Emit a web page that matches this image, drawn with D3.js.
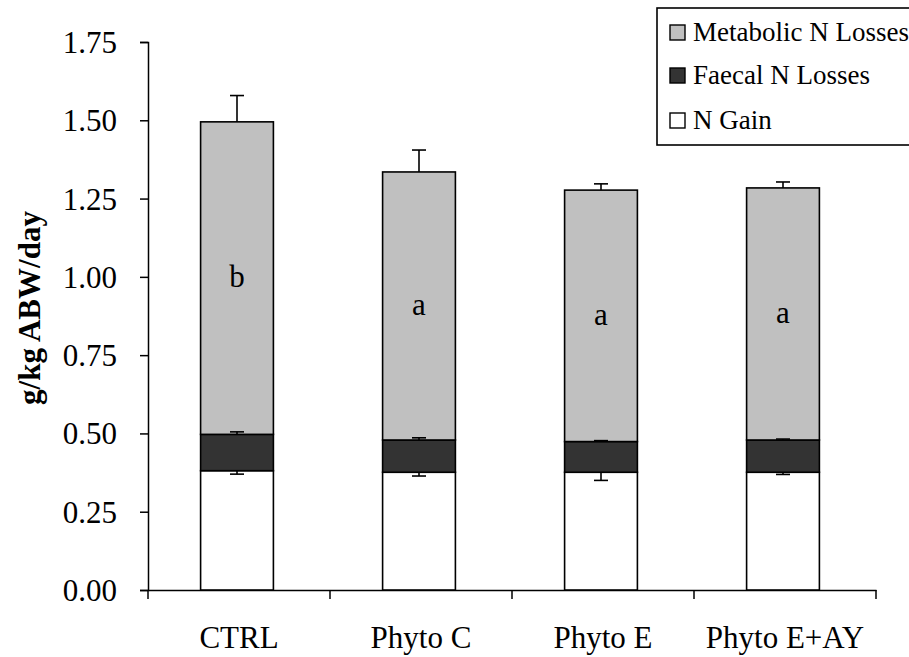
<!DOCTYPE html>
<html><head><meta charset="utf-8">
<script src="https://cdn.jsdelivr.net/npm/d3@7"></script>
<style>body{margin:0;background:#fff}svg{display:block}</style>
</head><body>
<svg id="c" width="909" height="657"></svg>
<script>
const categories = ["CTRL", "Phyto C", "Phyto E", "Phyto E+AY"];
const nGain = [0.381, 0.376, 0.376, 0.376];
const nGainErr = [0.011, 0.012, 0.026, 0.007];
const faecal = [0.116, 0.103, 0.098, 0.103];
const faecalErr = [0.008, 0.007, 0.003, 0.003];
const metabolic = [0.998, 0.856, 0.803, 0.805];
const metabolicErr = [0.084, 0.070, 0.020, 0.019];
const letters = ["b", "a", "a", "a"];
const yTicks = [0, 0.25, 0.5, 0.75, 1.0, 1.25, 1.5, 1.75];
const legendLabels = ["Metabolic N Losses", "Faecal N Losses", "N Gain"];
const colors = ["#c0c0c0", "#333333", "#ffffff"];

const svg = d3.select("#c");
const font = "'Liberation Serif', 'Times New Roman', serif";
const x0 = 148, x1 = 876, yTop = 42, yBot = 590;
const x = d3.scaleBand().domain(categories).range([x0, x1]).paddingInner(0).paddingOuter(0);
const y = d3.scaleLinear().domain([0, 1.75]).range([yBot, yTop]);
const bw = x.bandwidth() * 0.4;

// axes
const yAxis = d3.axisLeft(y).tickValues(yTicks).tickSize(8).tickFormat(d3.format(".2f"));
const gy = svg.append("g").attr("transform", `translate(${x0},0)`).call(yAxis);
gy.select(".domain").attr("stroke", "#000").attr("stroke-width", 1.5);
gy.selectAll(".tick line").attr("stroke", "#000").attr("stroke-width", 1.5);
gy.selectAll(".tick text").attr("font-family", font).attr("font-size", 31).attr("fill", "#000").attr("x", -31).attr("dy", "0.34em");

const xAxis = d3.axisBottom(x).tickSize(0).tickSizeOuter(0);
const gx = svg.append("g").attr("transform", `translate(0,${yBot})`).call(xAxis);
gx.select(".domain").attr("stroke", "#000").attr("stroke-width", 1.5);
gx.selectAll(".tick text").attr("font-family", font).attr("font-size", 31).attr("fill", "#000").attr("dy", 0).attr("y", 58);
// category boundary ticks
const bounds = categories.map(c => x(c)).concat([x1]);
svg.append("g").selectAll("line").data(bounds).join("line")
  .attr("x1", d => d).attr("x2", d => d).attr("y1", yBot).attr("y2", yBot + 9)
  .attr("stroke", "#000").attr("stroke-width", 1.5);

// bars
const data = categories.map((c, i) => ({c, i, g: nGain[i], f: faecal[i], m: metabolic[i]}));
const cx = d => x(d.c) + x.bandwidth() / 2 - 2;
const g = svg.append("g");
data.forEach(d => {
  const segs = [
    {lo: 0, hi: d.g, col: colors[2]},
    {lo: d.g, hi: d.g + d.f, col: colors[1]},
    {lo: d.g + d.f, hi: d.g + d.f + d.m, col: colors[0]}
  ];
  segs.forEach(s => {
    g.append("rect").attr("x", cx(d) - bw / 2).attr("width", bw)
      .attr("y", y(s.hi)).attr("height", y(s.lo) - y(s.hi))
      .attr("fill", s.col).attr("stroke", "#000").attr("stroke-width", 1.6);
  });
  const errs = [
    {v: d.g, e: -nGainErr[d.i]},
    {v: d.g + d.f, e: faecalErr[d.i]},
    {v: d.g + d.f + d.m, e: metabolicErr[d.i]}
  ];
  errs.forEach(er => {
    g.append("line").attr("x1", cx(d)).attr("x2", cx(d)).attr("y1", y(er.v)).attr("y2", y(er.v + er.e))
      .attr("stroke", "#000").attr("stroke-width", 1.6);
    g.append("line").attr("x1", cx(d) - 7).attr("x2", cx(d) + 7).attr("y1", y(er.v + er.e)).attr("y2", y(er.v + er.e))
      .attr("stroke", "#000").attr("stroke-width", 1.6);
  });
  g.append("text").attr("x", cx(d)).attr("y", y(d.g + d.f + d.m / 2)).attr("dy", "0.3em")
    .attr("text-anchor", "middle").attr("font-family", font).attr("font-size", 31).text(letters[d.i]);
});

// y title
svg.append("text").attr("transform", `translate(40,308) rotate(-90)`)
  .attr("text-anchor", "middle").attr("font-family", font).attr("font-weight", "bold")
  .attr("font-size", 31).text("g/kg ABW/day");

// legend
const lg = svg.append("g");
lg.append("rect").attr("x", 657).attr("y", 8).attr("width", 270).attr("height", 137)
  .attr("fill", "#fff").attr("stroke", "#000").attr("stroke-width", 1.6);
const rowsY = [32, 75, 120];
legendLabels.forEach((l, i) => {
  lg.append("rect").attr("x", 670).attr("y", rowsY[i] - 7).attr("width", 15).attr("height", 15)
    .attr("fill", colors[i]).attr("stroke", "#000").attr("stroke-width", 1.4);
  lg.append("text").attr("x", 693).attr("y", rowsY[i]).attr("dy", "0.34em")
    .attr("font-family", font).attr("font-size", 27).text(l);
});
</script>
</body></html>
